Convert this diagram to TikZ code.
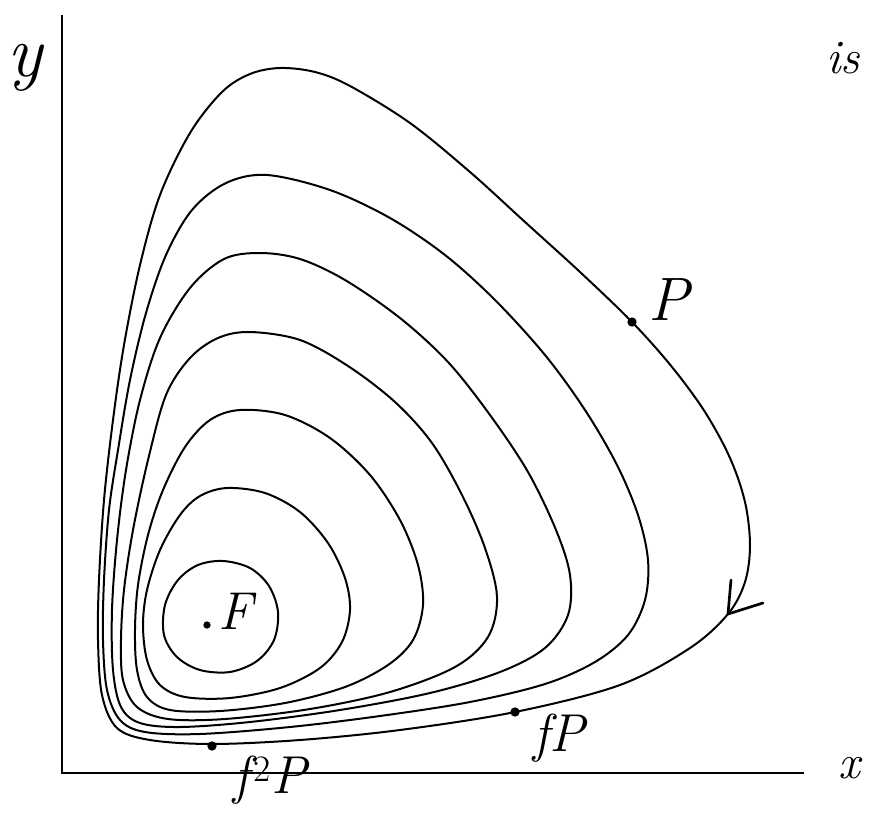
\documentclass[tikz,border=0pt]{standalone}
\usepackage{fontspec}
\begin{document}
\begin{tikzpicture}[x=0.75pt,y=-0.75pt,
  orbit/.style={line width=1.5pt, line join=round, line cap=round},
  axis/.style={line width=2.2pt},
  dotmark/.style={circle, fill=black, inner sep=0pt, minimum size=7pt},
  lab/.style={inner sep=0pt}]
\useasboundingbox[fill=white] (0,0) rectangle (872,818);
% axes
\coordinate (O) at (62,773);
\coordinate (ytop) at (62,15);
\coordinate (xend) at (804,773);
\draw[axis] (ytop) -- (O) -- (xend);
\node[lab, font=\fontsize{55}{60}\selectfont\itshape] (ylab) at (25,68) {y};
\node[lab, font=\fontsize{36}{40}\selectfont\itshape] (xlab) at (849,768) {x};
\node[lab, font=\fontsize{36}{40}\selectfont\itshape] (islab) at (843,58) {is};
% orbits (outer to inner)
\draw[orbit] plot[smooth cycle, tension=0.55] coordinates {
(280,68) (315,72) (350,86) (410,123) (470,172) (525,222) (580,272) (632,322)
(672,367) (705,412) (730,458) (745,502) (750,545) (745,582) (728,614) (690,648)
(620,685) (515,712) (400,730) (300,740) (212,744) (150,740) (117,728) (102,695)
(98,640) (99,580) (104,500) (113,420) (124,345) (140,265) (160,195) (190,133)
(222,92) (250,74)};
\draw[orbit] plot[smooth cycle, tension=0.55] coordinates {
(267,175) (330,190) (390,218) (445,255) (495,300) (545,355) (585,410) (617,465)
(638,515) (648,560) (645,600) (628,635) (595,662) (545,684) (470,702) (380,716)
(290,727) (200,734) (145,732) (120,720) (107,690) (103,640) (104,580) (109,510)
(118,450) (130,380) (146,313) (166,255) (192,210) (226,183)};
\draw[orbit] plot[smooth cycle, tension=0.55] coordinates {
(260,253) (300,259) (345,280) (400,318) (448,362) (490,415) (528,472) (556,530)
(570,575) (568,615) (545,648) (500,672) (430,693) (340,710) (250,722) (180,727)
(140,723) (121,707) (113,670) (112,610) (117,540) (126,470) (140,400) (160,338)
(190,288) (224,259)};
\draw[orbit] plot[smooth cycle, tension=0.55] coordinates {
(250,332) (300,340) (348,366) (395,402) (432,443) (462,495) (485,548) (497,597)
(488,637) (455,667) (390,692) (310,709) (225,719) (168,719) (137,707) (123,680)
(121,640) (124,590) (133,530) (148,460) (166,395) (190,358) (218,338)};
\draw[orbit] plot[smooth cycle, tension=0.55] coordinates {
(240,410) (285,415) (330,438) (370,475) (400,520) (418,565) (423,605) (413,640)
(388,665) (345,687) (285,703) (220,711) (170,710) (147,697) (137,670) (135,630)
(138,585) (148,535) (163,490) (185,447) (210,420)};
\draw[orbit] plot[smooth cycle, tension=0.55] coordinates {
(227,488) (265,493) (300,512) (328,543) (345,578) (350,610) (342,642) (320,668)
(280,688) (230,698) (185,697) (160,685) (147,660) (143,625) (147,590) (160,550)
(180,515) (200,496)};
\draw[orbit] plot[smooth cycle, tension=0.55] coordinates {
(223,561) (250,568) (269,586) (278,612) (274,640) (257,661) (230,672) (200,670)
(177,657) (164,635) (165,605) (178,580) (198,565)};
% arrow head on outer orbit
\coordinate (tip) at (728,614);
\coordinate (armA) at (731,580);
\coordinate (armB) at (763,603);
\draw[orbit, line width=2pt] (armA) -- (tip) -- (armB);
% marked points
\node[dotmark, minimum size=5.5pt] (Fd) at (207,625) {};
\node[lab, font=\fontsize{40}{44}\selectfont\itshape] (Fl) at (236,611) {F};
\node[dotmark] (Pd) at (632,322) {};
\node[lab, font=\fontsize{46}{50}\selectfont\itshape] (Pl) at (669,300) {P};
\node[dotmark] (fPd) at (515,712) {};
\node[lab, font=\fontsize{40}{44}\selectfont\itshape] (fPl) at (559,738) {fP};
\node[dotmark] (ffPd) at (212,746) {};
\node[lab, font=\fontsize{40}{44}\selectfont\itshape] (ffPl) at (270,780) {f\kern3pt\textsuperscript{\upshape 2}P};
\end{tikzpicture}
\end{document}
